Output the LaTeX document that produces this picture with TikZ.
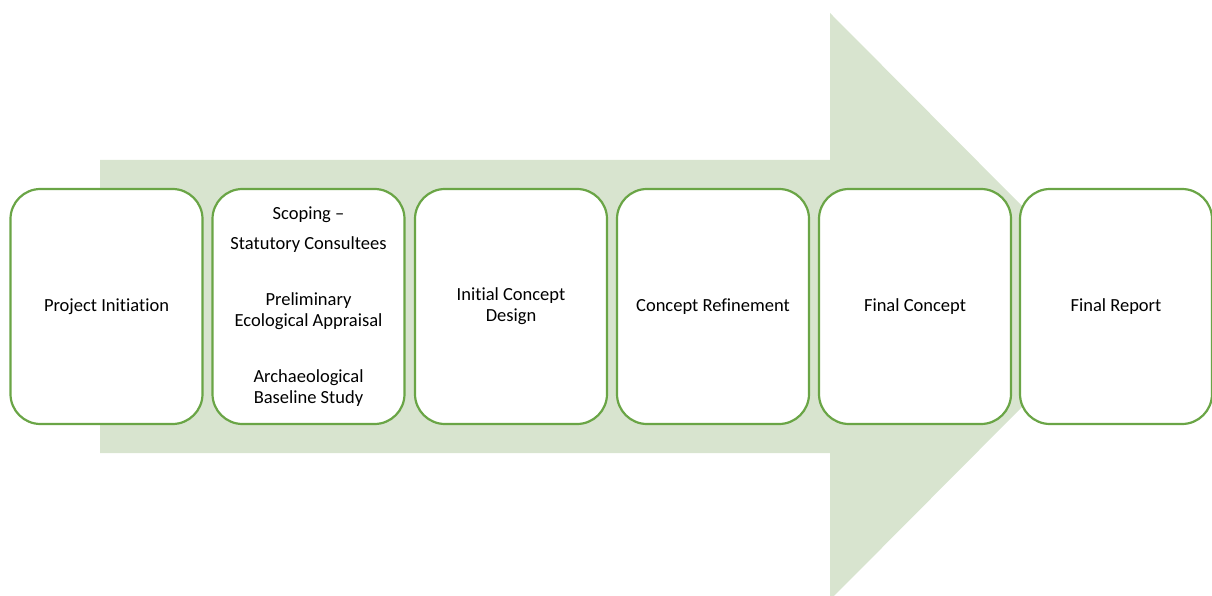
\documentclass[tikz,border=0pt]{standalone}
\usepackage{fontspec}
\setmainfont[RawFeature=-liga]{Carlito}
\definecolor{arrowfill}{RGB}{216,228,207}
\definecolor{boxline}{RGB}{106,165,70}
\begin{document}
\begin{tikzpicture}[x=1pt,y=-1pt,
  stage/.style={draw=boxline,line width=2.2pt,fill=white,rounded corners=30pt,
    minimum width=192pt,minimum height=235pt,inner sep=0pt,align=center,
    font=\fontsize{18.5}{21}\selectfont,text=black},
  bigarrow/.style={fill=arrowfill,draw=none}]
\useasboundingbox (0,0) rectangle (1212,596);
\begin{scope}
\clip (0,0) rectangle (1212,596);
\fill[bigarrow] (100,160) -- (830,160) -- (830,13) -- (1122,306.5) -- (830,600) -- (830,453) -- (100,453) -- cycle;
\end{scope}
\node[stage] (s1) at (106.5,306.5) {Project Initiation};
\node[stage] (s2) at (308.5,306.5) {Scoping –\\[9pt]Statutory Consultees\\[35pt]Preliminary\\Ecological Appraisal\\[35pt]Archaeological\\Baseline Study};
\node[stage] (s3) at (511,306.5) {Initial Concept\\Design};
\node[stage] (s4) at (713,306.5) {Concept Refinement};
\node[stage] (s5) at (915,306.5) {Final Concept};
\node[stage] (s6) at (1116,306.5) {Final Report};
\end{tikzpicture}
\end{document}
